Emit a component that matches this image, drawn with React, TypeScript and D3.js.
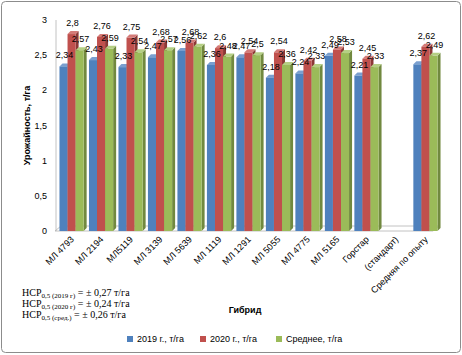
import React from "react";
import * as d3 from "d3";

const categories = ["МЛ 4793", "МЛ 2194", "МЛ5119", "МЛ 3139", "МЛ 5639", "МЛ 1119", "МЛ 1291", "МЛ 5055", "МЛ 4775", "МЛ 5165", "Горстар", "(стандарт)", "Средняя по опыту"];
const y2019: (number | null)[] = [2.34, 2.43, 2.33, 2.47, 2.56, 2.36, 2.47, 2.18, 2.24, 2.49, 2.21, null, 2.37];
const y2020: (number | null)[] = [2.8, 2.76, 2.75, 2.68, 2.68, 2.6, 2.54, 2.54, 2.42, 2.58, 2.45, null, 2.62];
const yMean: (number | null)[] = [2.57, 2.59, 2.54, 2.57, 2.62, 2.48, 2.5, 2.36, 2.33, 2.53, 2.33, null, 2.49];
const seriesNames = ["2019 г., т/га", "2020 г., т/га", "Среднее, т/га"];
const yTicks = [0, 0.5, 1, 1.5, 2, 2.5, 3];

const colors = ["#4F81BD", "#C0504D", "#9BBB59"];
const sideColors = ["#385D8A", "#8C3836", "#71893F"];
const topColors = ["#7A9FCF", "#D47B78", "#B5CF84"];

const fmt = (v: number) => String(v).replace(".", ",");

export default function App() {
  const W = 462, H = 355;
  const series = [y2019, y2020, yMean];
  const y = d3.scaleLinear().domain([0, 3]).range([231, 20]);
  const x = d3.scaleBand<string>().domain(categories).range([58, 439]).paddingInner(0.18).paddingOuter(0.05);
  const xi = d3.scaleBand<number>().domain([0, 1, 2]).range([0, x.bandwidth()]);
  const dx = 3, dy = -3;
  const font = "'Liberation Sans', Arial, sans-serif";

  return (
    <svg width={W} height={H} style={{ position: "absolute", left: 0, top: 0 }} fontFamily={font}>
      <rect x={1.5} y={1.5} width={W - 3} height={H - 4} rx={4} fill="#fff" stroke="#8c8c8c" />
      {/* floor */}
      <polygon points={`55,${y(0)} 433,${y(0)} 439,${y(0) - 5} 61,${y(0) - 5}`} fill="#fff" stroke="#b3b3b3" strokeWidth={0.8} />
      <line x1={56} x2={56} y1={y(3)} y2={y(0)} stroke="#b3b3b3" strokeWidth={0.8} />
      {yTicks.map((t) => (
        <text key={t} x={47} y={y(t) + 3} fontSize={9} textAnchor="end" fill="#000">{fmt(t)}</text>
      ))}
      <text transform={`translate(30,${(y(0) + y(3)) / 2}) rotate(-90)`} fontSize={9} fontWeight="bold" textAnchor="middle">Урожайность, т/га</text>
      {categories.map((c, ci) => (
        <g key={c}>
          {series.map((s, si) => {
            const v = s[ci];
            if (v == null) return null;
            const x0 = (x(c) as number) + (xi(si) as number);
            const w = xi.bandwidth();
            const yt = y(v), yb = y(0);
            return (
              <g key={si}>
                <polygon points={`${x0 + w},${yt} ${x0 + w + dx},${yt + dy} ${x0 + w + dx},${yb + dy} ${x0 + w},${yb}`} fill={sideColors[si]} />
                <polygon points={`${x0},${yt} ${x0 + dx},${yt + dy} ${x0 + w + dx},${yt + dy} ${x0 + w},${yt}`} fill={topColors[si]} />
                <rect x={x0} y={yt} width={w} height={yb - yt} fill={colors[si]} />
              </g>
            );
          })}
        </g>
      ))}
      {categories.map((c, ci) => (
        <g key={"l" + c}>
          {series.map((s, si) => {
            const v = s[ci];
            if (v == null) return null;
            const cx = (x(c) as number) + (xi(si) as number) + xi.bandwidth() / 2 + 1;
            return <text key={si} x={cx} y={y(v) - 8} fontSize={9} textAnchor="middle" fill="#000">{fmt(v)}</text>;
          })}
        </g>
      ))}
      {categories.map((c) => {
        const cx = (x(c) as number) + x.bandwidth() / 2 + 3;
        return (
          <text key={"x" + c} transform={`translate(${cx},240) rotate(-45)`} fontSize={9} textAnchor="end">{c}</text>
        );
      })}
      <text x={245} y={313} fontSize={9} fontWeight="bold" textAnchor="middle">Гибрид</text>
      <g fontFamily="'Liberation Serif', 'Times New Roman', serif" fontSize={10}>
        {[["2019 г", "0,27"], ["2020 г", "0,24"], ["сред.", "0,26"]].map(([sub, val], i) => (
          <text key={i} x={22} y={296 + i * 11}>
            НСР<tspan fontSize={7} dy={2}>0,5 ({sub})</tspan><tspan dy={-2}> = ± {val} т/га</tspan>
          </text>
        ))}
      </g>
      {seriesNames.map((n, i) => {
        const lx = [127, 200, 276][i];
        return (
          <g key={n}>
            <rect x={lx} y={336} width={6} height={6} fill={colors[i]} />
            <text x={lx + 10} y={342} fontSize={9}>{n}</text>
          </g>
        );
      })}
    </svg>
  );
}
